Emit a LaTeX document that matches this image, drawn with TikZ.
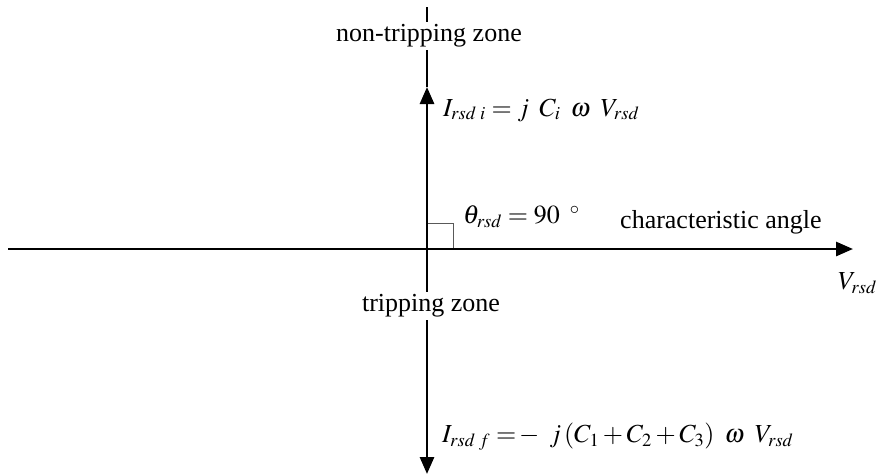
\documentclass[tikz,border=0pt]{standalone}
\usepackage{mathptmx}
\usepackage[no-math]{fontspec}
\setmainfont{Liberation Serif}
\usetikzlibrary{arrows.meta}
\DeclareMathSizes{26}{26}{18.5}{14}
\newcommand{\gp}{\mkern7mu}
\begin{document}
\begin{tikzpicture}[x=1pt,y=-1pt,
  axis/.style={line width=2.8pt},
  tip/.style={-{Triangle[length=17pt,width=14pt]}},
  lbl/.style={inner sep=0pt,font=\fontsize{26}{30}\selectfont},
  mth/.style={inner sep=0pt,font=\fontsize{26}{30}\selectfont},
  zone/.style={fill=white,inner sep=3pt,font=\fontsize{26}{30}\selectfont}]
\useasboundingbox (0,0) rectangle (878,475);
\coordinate (O) at (427,249);
\coordinate (L) at (8,249);
\coordinate (R) at (853,249);
\coordinate (T) at (427,7);
\coordinate (U) at (427,87);
\coordinate (B) at (427,474);
\coordinate (S1) at (453,249);
\coordinate (S2) at (453,223);
\coordinate (S3) at (427,223);
% right angle mark
\draw[line width=1pt,gray!70!black] (S3) -- (S2) -- (S1);
% axes
\draw[axis,tip] (L) -- (R);
\draw[axis] (U) -- (T);
\draw[axis,tip] (O) -- (U);
\draw[axis,tip] (O) -- (B);
% zone labels on the vertical axis
\node[zone] (nt) at (429,36) {non-tripping zone};
\node[zone] (tz) at (431,306) {tripping zone};
% formulas and labels
\node[mth,anchor=west] (ii) at (443,110) {$I_{rsd\;i} = j\gp C_i\gp\omega\gp V_{rsd}$};
\node[mth,anchor=west] (th) at (463,217) {$\theta_{rsd} = 90\mkern7mu^{\circ}$};
\node[lbl,anchor=west] (ca) at (620,222) {characteristic angle};
\node[mth,anchor=west] (vr) at (838,283) {$V_{rsd}$};
\node[mth,anchor=west] (if) at (442,437) {$I_{rsd\;f} =\!-\gp j\,(C_1+C_2+C_3)\gp\omega\gp V_{rsd}$};
\end{tikzpicture}
\end{document}
